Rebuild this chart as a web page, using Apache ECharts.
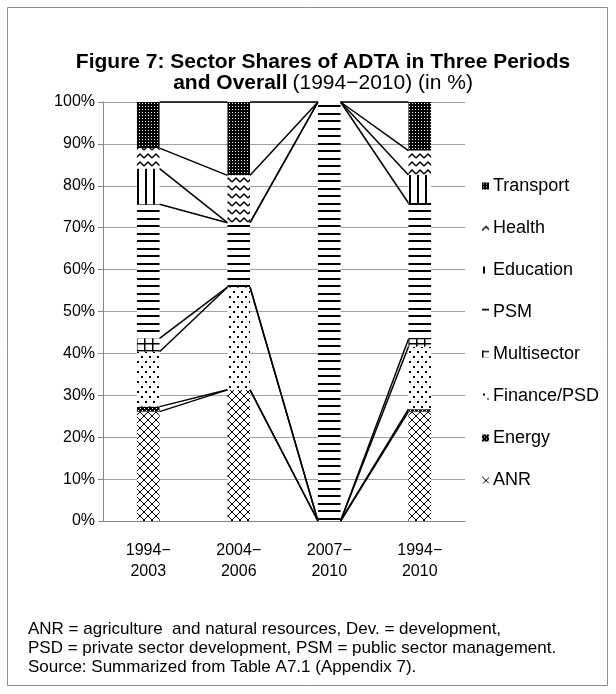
<!DOCTYPE html>
<html>
<head>
<meta charset="utf-8">
<script src="https://cdn.jsdelivr.net/npm/echarts@6/dist/echarts.min.js"></script>
<style>
  html, body { margin: 0; padding: 0; background: #fff; }
  #chart { width: 616px; height: 694px; }
</style>
</head>
<body>
<div id="chart"></div>
<script>
// categories and shares (%)
const categories = ['1994\u2212\n2003', '2004\u2212\n2006', '2007\u2212\n2010', '1994\u2212\n2010'];
const sectorNames = ['ANR', 'Energy', 'Finance/PSD', 'Multisector', 'PSM', 'Education', 'Health', 'Transport'];
const anr = [26.1, 31.3, 0, 26.1];
const energy = [1.2, 0, 0, 0.6];
const finance = [13.1, 24.5, 0, 14.9];
const multisector = [3.2, 0, 0, 1.8];
const psm = [32.0, 15.4, 100, 32.5];
const education = [8.5, 0, 0, 6.7];
const health = [4.9, 11.3, 0, 5.8];
const transport = [11.0, 17.5, 0, 11.6];
const yTickStep = 10;

const FONT = "'Liberation Sans', Arial, sans-serif";
const BAR_RATIO = 0.25;

function tile(w, h, draw) {
  const c = document.createElement('canvas');
  c.width = w;
  c.height = h;
  const ctx = c.getContext('2d');
  ctx.fillStyle = '#fff';
  ctx.fillRect(0, 0, w, h);
  ctx.fillStyle = '#000';
  ctx.strokeStyle = '#000';
  draw(ctx);
  return { image: c, repeat: 'repeat' };
}

// black & white fills, one per sector
const patterns = [
  tile(8, 8, ctx => { // ANR: diagonal cross
    ctx.lineWidth = 1;
    ctx.beginPath();
    ctx.moveTo(0, 0); ctx.lineTo(8, 8);
    ctx.moveTo(8, 0); ctx.lineTo(0, 8);
    ctx.stroke();
  }),
  tile(4, 4, ctx => { // Energy
    ctx.fillRect(0, 0, 4, 4);
    ctx.fillStyle = '#fff';
    ctx.fillRect(0, 0, 1, 1);
    ctx.fillRect(2, 2, 1, 1);
  }),
  tile(8, 10, ctx => { // Finance/PSD: dots
    ctx.fillRect(1, 1, 2, 2);
    ctx.fillRect(5, 6, 2, 2);
  }),
  tile(8, 7, ctx => { // Multisector: grid
    ctx.fillRect(0, 0, 1.5, 7);
    ctx.fillRect(0, 0, 8, 1.5);
  }),
  tile(4, 15, ctx => { // PSM: horizontal lines
    ctx.fillRect(0, 0, 4, 2);
    ctx.fillRect(0, 8, 4, 2);
  }),
  tile(8, 4, ctx => { // Education: vertical lines
    ctx.fillRect(1, 0, 2, 4);
  }),
  tile(8, 8, ctx => { // Health: wave
    ctx.lineWidth = 1.5;
    ctx.beginPath();
    ctx.moveTo(0, 6); ctx.lineTo(4, 2); ctx.lineTo(8, 6);
    ctx.stroke();
  }),
  tile(3, 3, ctx => { // Transport: dense check
    ctx.fillRect(0, 0, 3, 3);
    ctx.fillStyle = '#fff';
    ctx.fillRect(1, 1, 1, 1);
  })
];

const values = [anr, energy, finance, multisector, psm, education, health, transport];

// cumulative tops per category for the series lines
const tops = categories.map((c, i) => {
  let s = 0;
  return values.map(v => (s += v[i]));
});
const seriesLineData = [];
for (let i = 0; i < categories.length - 1; i++) {
  for (let k = 0; k < sectorNames.length; k++) {
    seriesLineData.push([i, tops[i][k], tops[i + 1][k]]);
  }
}

const chart = echarts.init(document.getElementById('chart'));

const barSeries = sectorNames.map((name, k) => ({
  name: name,
  type: 'bar',
  stack: 'total',
  barWidth: (BAR_RATIO * 100) + '%',
  data: values[k],
  itemStyle: { color: patterns[k] },
  emphasis: { disabled: true }
}));

const option = {
  animation: false,
  textStyle: { fontFamily: FONT },
  title: {
    left: 318,
    top: 47,
    textAlign: 'center',
    text: '{b|Figure 7: Sector Shares of ADTA in Three Periods}\n{b|and Overall} {n|(1994\u22122010) (in %)}',
    textStyle: {
      rich: {
        b: { fontFamily: FONT, fontWeight: 'bold', fontSize: 21, lineHeight: 21, color: '#000' },
        n: { fontFamily: FONT, fontWeight: 'normal', fontSize: 21, lineHeight: 21, color: '#000' }
      }
    }
  },
  legend: {
    orient: 'vertical',
    left: 477,
    top: 172,
    itemWidth: 7,
    itemHeight: 7,
    itemGap: 24,
    icon: 'rect',
    data: sectorNames.slice().reverse(),
    textStyle: { fontFamily: FONT, fontSize: 18, lineHeight: 18, color: '#000', padding: [0, 0, 0, -1] },
    selectedMode: false
  },
  grid: { left: 103, right: 151, top: 102, bottom: 173 },
  xAxis: {
    type: 'category',
    data: categories,
    axisLine: { lineStyle: { color: '#868686' } },
    axisTick: { show: false },
    axisLabel: { color: '#000', fontSize: 16, lineHeight: 21, margin: 19, fontFamily: FONT }
  },
  yAxis: {
    type: 'value',
    min: 0,
    max: 100,
    interval: yTickStep,
    axisLine: { show: true, lineStyle: { color: '#868686' } },
    axisTick: { show: true, length: 5, lineStyle: { color: '#868686' } },
    splitLine: { lineStyle: { color: '#a0a0a0' } },
    axisLabel: { color: '#000', fontSize: 16, margin: 8, formatter: '{value}%', fontFamily: FONT }
  },
  series: barSeries.concat([{
    type: 'custom',
    name: 'series lines',
    silent: true,
    z: 3,
    encode: { x: 0, y: [1, 2] },
    data: seriesLineData,
    renderItem: function (params, api) {
      const half = api.size([1, 0])[0] * BAR_RATIO / 2;
      const i = api.value(0);
      const a = api.coord([i, api.value(1)]);
      const b = api.coord([i + 1, api.value(2)]);
      return {
        type: 'line',
        shape: { x1: a[0] + half, y1: a[1], x2: b[0] - half, y2: b[1] },
        style: { stroke: '#000', lineWidth: 1.5 }
      };
    }
  }]),
  graphic: [
    {
      type: 'rect',
      shape: { x: 7.5, y: 7.5, width: 600, height: 678 },
      style: { fill: 'none', stroke: '#8c8c8c', lineWidth: 1 },
      silent: true
    },
    {
      type: 'text',
      x: 28,
      y: 620,
      silent: true,
      style: {
        text: 'ANR = agriculture  and natural resources, Dev. = development,\nPSD = private sector development, PSM = public sector management.\nSource: Summarized from Table A7.1 (Appendix 7).',
        font: '17px ' + FONT,
        lineHeight: 19,
        fill: '#000'
      }
    }
  ]
};

chart.setOption(option);
</script>
</body>
</html>
